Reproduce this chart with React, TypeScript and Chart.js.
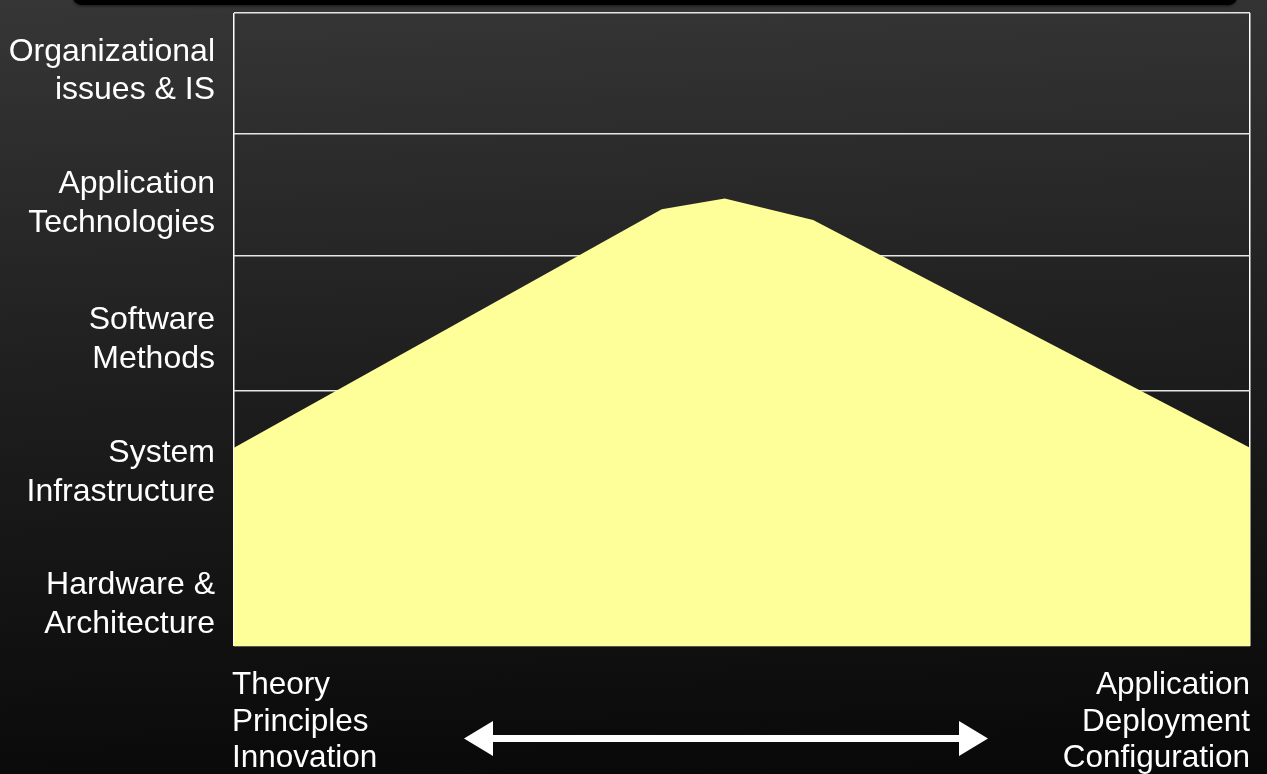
import React, { useEffect, useRef } from "react";
import { Chart, registerables } from "chart.js";

Chart.register(...registerables);

// Position along the spectrum (0 = theory, 100 = application)
const xPositions = [0, 42.1, 48.3, 57.0, 100];
// Relative level of the curve
const levelValues = [31.3, 69.0, 70.7, 67.3, 31.3];

// Vertical layer labels (bottom to top) and their centers
const layerLabels: string[][] = [
  ["Hardware &", "Architecture"],
  ["System", "Infrastructure"],
  ["Software", "Methods"],
  ["Application", "Technologies"],
  ["Organizational", "issues & IS"],
];
const layerLabelValues = [6.5, 27.4, 48.4, 69.9, 90.8];
// Layer boundaries
const layerBoundaries = [0, 40.4, 61.6, 81.0, 100];

const leftFooter = ["Theory", "Principles", "Innovation"];
const rightFooter = ["Application", "Deployment", "Configuration"];

const FONT = '"Liberation Sans", Arial, Helvetica, sans-serif';

const footerPlugin = {
  id: "footerPlugin",
  afterDraw(chart: any) {
    const { ctx, chartArea } = chart;
    ctx.save();
    ctx.fillStyle = "#ffffff";
    ctx.font = `31.5px ${FONT}`;
    ctx.textBaseline = "alphabetic";
    const base = chartArea.bottom + 48;
    const step = 36.5;
    ctx.textAlign = "left";
    leftFooter.forEach((t, i) => ctx.fillText(t, chartArea.left - 2, base + i * step));
    ctx.textAlign = "right";
    rightFooter.forEach((t, i) => ctx.fillText(t, chartArea.right, base + i * step));

    // double-headed arrow
    const y = chartArea.bottom + 92.6;
    const x1 = chartArea.left + 230;
    const x2 = chartArea.left + 754;
    const head = 29;
    const halfH = 17.5;
    const shaft = 3.5;
    ctx.beginPath();
    ctx.moveTo(x1, y);
    ctx.lineTo(x1 + head, y - halfH);
    ctx.lineTo(x1 + head, y - shaft);
    ctx.lineTo(x2 - head, y - shaft);
    ctx.lineTo(x2 - head, y - halfH);
    ctx.lineTo(x2, y);
    ctx.lineTo(x2 - head, y + halfH);
    ctx.lineTo(x2 - head, y + shaft);
    ctx.lineTo(x1 + head, y + shaft);
    ctx.lineTo(x1 + head, y + halfH);
    ctx.closePath();
    ctx.fill();
    ctx.restore();
  },
};

export default function App() {
  const canvasRef = useRef<HTMLCanvasElement | null>(null);

  useEffect(() => {
    if (!canvasRef.current) return;
    const chart = new Chart(canvasRef.current, {
      type: "line",
      data: {
        datasets: [
          {
            data: xPositions.map((x, i) => ({ x, y: levelValues[i] })),
            fill: "origin",
            backgroundColor: "#FFFF99",
            borderColor: "#FFFF99",
            borderWidth: 0,
            pointRadius: 0,
            tension: 0,
          },
        ],
      },
      options: {
        animation: false,
        responsive: false,
        maintainAspectRatio: false,
        layout: { padding: { left: 0, top: 13, right: 17, bottom: 128 } },
        plugins: {
          legend: { display: false },
          tooltip: { enabled: false },
        },
        scales: {
          x: {
            type: "linear",
            min: 0,
            max: 100,
            position: "bottom",
            afterBuildTicks: (scale: any) => {
              scale.ticks = [{ value: 0 }, { value: 100 }];
            },
            afterFit: (scale: any) => {
              scale.height = 0;
              scale.paddingLeft = 0;
              scale.paddingRight = 0;
            },
            ticks: { display: false },
            border: { display: false },
            grid: { color: "#ffffff", lineWidth: 1.5, drawTicks: false },
          },
          y: {
            type: "linear",
            min: 0,
            max: 100,
            position: "left",
            afterBuildTicks: (scale: any) => {
              scale.ticks = layerLabelValues.map((v) => ({ value: v }));
            },
            afterFit: (scale: any) => {
              scale.width = 234;
              scale.paddingTop = 0;
              scale.paddingBottom = 0;
            },
            ticks: {
              color: "#ffffff",
              padding: 19,
              autoSkip: false,
              font: { family: FONT, size: 32, lineHeight: 1.2 },
              callback: (value: any) => {
                const idx = layerLabelValues.indexOf(Number(value));
                return idx >= 0 ? layerLabels[idx] : "";
              },
            },
            border: { display: false },
            grid: { display: false, drawTicks: false },
          },
          y2: {
            type: "linear",
            min: 0,
            max: 100,
            position: "right",
            afterBuildTicks: (scale: any) => {
              scale.ticks = layerBoundaries.map((v) => ({ value: v }));
            },
            afterFit: (scale: any) => {
              scale.width = 0;
              scale.paddingTop = 0;
              scale.paddingBottom = 0;
            },
            ticks: { display: false },
            border: { display: false },
            grid: {
              drawTicks: false,
              lineWidth: 1.5,
              color: (c: any) => (c.tick && c.tick.value === 0 ? "#9a9a9a" : "#e6e6e6"),
            },
          },
        },
      },
      plugins: [footerPlugin],
    });
    return () => chart.destroy();
  }, []);

  return (
    <div
      style={{
        position: "fixed",
        left: 0,
        top: 0,
        width: 1267,
        height: 774,
        overflow: "hidden",
        background: "linear-gradient(178deg, #363636 0%, #1d1d1d 50%, #080808 100%)",
        fontFamily: FONT,
      }}
    >
      <div
        style={{
          position: "absolute",
          left: 73,
          width: 1164,
          top: -12,
          height: 17,
          background: "#000",
          borderRadius: 12,
          boxShadow: "0 1px 3px rgba(0,0,0,0.6)",
        }}
      />
      <canvas
        ref={canvasRef}
        width={1267}
        height={774}
        style={{ position: "absolute", left: 0, top: 0, width: 1267, height: 774 }}
      />
    </div>
  );
}
